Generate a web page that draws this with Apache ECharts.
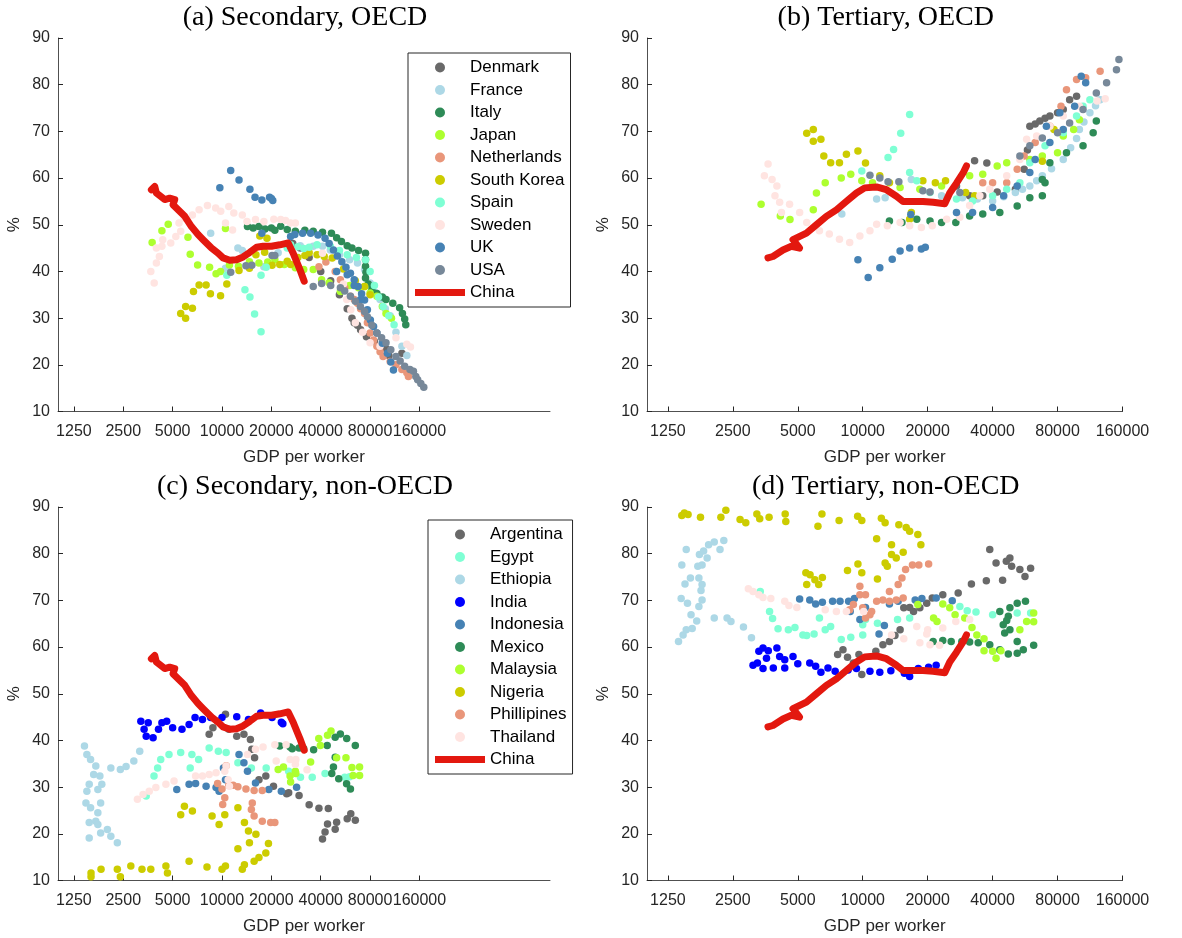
<!DOCTYPE html>
<html>
<head>
<meta charset="utf-8">
<script src="https://cdn.jsdelivr.net/npm/echarts@6/dist/echarts.min.js"></script>
<style>
  html, body { margin: 0; background: #fff; }
  #chart { width: 1182px; height: 938px; }
</style>
</head>
<body>
<div id="chart"></div>
<script>
// tick labels on the GDP axis
const gdpTicks = [1250, 2500, 5000, 10000, 20000, 40000, 80000, 160000];

// China, shared by the panels: [GDP per worker, %]
const chinaSecondary = [[3711,57.5],[3888,58.2],[3981,56.8],[4475,55.4],[4800,55.7],[5150,55.4],[5025,54.3],[5400,53.2],[5930,51.8],[6510,49.6],[7145,47.9],[7670,46.8],[8630,45.0],[9470,43.9],[10150,42.9],[11160,42.4],[12260,42.5],[13450,43.1],[14780,44.1],[16240,45.2],[17820,45.4],[20050,45.4],[22540,45.7],[25330,46.1],[27170,43.9],[29850,40.4],[31710,37.9]];
const chinaTertiary = [[3637,42.9],[3836,43.2],[4269,44.6],[4670,45.4],[5100,45.0],[4750,46.8],[5485,48.2],[6100,50.0],[6785,51.8],[7550,53.2],[8400,55.0],[9350,56.8],[10215,57.9],[11575,58.1],[12880,57.5],[14330,56.1],[15380,55.0],[16820,55.0],[19040,55.0],[21190,54.8],[24000,54.5],[25315,56.8],[27200,58.9],[29190,61.1],[30260,62.6]];

// (a) Secondary, OECD
const secOecdDenmark = [[27000,46],[30000,45],[34000,43],[40000,40],[46000,38],[52000,35],[58000,32],[62000,30],[64000,29],[67000,28.5],[70000,27.5],[76000,26],[85000,25],[95000,24],[100000,23.5],[104000,22],[125000,22.5]];
const secOecdFrance = [[8530,48.2],[12500,45],[13300,44.5],[10500,40.7],[18000,41],[22000,44],[26000,45],[30000,45.5],[36000,45.4],[41000,45.4],[45800,44.6],[52000,43.5],[60000,42.5],[67000,41.8],[74000,40.4],[80000,37.5],[86000,35.5],[92000,34],[99000,32],[106000,30.5],[115000,27],[125000,24],[134000,22]];
const secOecdItaly = [[14300,49.6],[15500,49.3],[16800,49.6],[18300,49.1],[20000,49.3],[21000,48.8],[22800,49.7],[25000,49],[28000,48.6],[32000,48.8],[36000,48.6],[41000,48.4],[46500,48.2],[50000,47.2],[53500,46.4],[58000,45.5],[62000,45],[68000,44.5],[75000,43.9],[75000,42.5],[75000,41.1],[75500,39.8],[75000,38.6],[78000,37.3],[82000,36.1],[88000,35.3],[95000,34.5],[100000,34],[110000,33.2],[121000,32.2],[126000,31],[130000,29.8],[132000,28.6]];
const secOecdJapan = [[3750,46.2],[4300,48.7],[4700,50.1],[6200,47.3],[6400,43.7],[7100,41.4],[8400,40.9],[9200,39.5],[9800,40],[10500,49.2],[11100,41.4],[12600,41.1],[14700,42.1],[16800,41.8],[19000,42],[21000,42.5],[24000,41.5],[28000,40.8],[31500,40.4],[36000,40.4],[40500,38.2],[45000,37.6],[52700,35.7],[60000,37],[68000,36.5],[74000,36.8],[80000,35.4],[88000,34.7],[95000,32.5],[100000,31],[108000,30]];
const secOecdNetherlands = [[39000,41],[43000,42],[49000,40],[52700,38.2],[56000,36.5],[60700,34.7],[64000,34],[67000,33.2],[70000,32],[74000,31],[77000,29],[80000,26.8],[84000,25.3],[88000,24],[92000,22.8],[96000,21.8],[106000,20.7],[115000,20],[125000,19],[134000,18.3],[137000,17.5]];
const secOecdKorea = [[5600,31],[6000,30],[6000,32.5],[6600,32.1],[6700,35.7],[7250,37.1],[8000,37.1],[8500,35.2],[9800,34.8],[10700,37.3],[12700,40.2],[14700,40.7],[16100,43.6],[17000,47.6],[18200,44.1],[18800,47.1],[20200,41.3],[22500,41.5],[25000,42.2],[26200,41.5],[29000,43],[32000,43.4],[34000,44],[38000,43.6],[42000,43.2],[47000,42.9],[55000,40.5],[65000,38],[74000,36.8],[80000,35]];
const secOecdSpain = [[10700,39.2],[13800,36.1],[14800,34.5],[15800,30.9],[17300,27.1],[17300,39.2],[18600,40.9],[25000,45],[26200,45.7],[29000,45.3],[31500,44.9],[34000,45.2],[38000,45.7],[45800,45.4],[52000,44.5],[58000,43.6],[66000,43],[75000,42.5],[80000,40],[85000,37],[90000,34.5],[96000,32.5],[104000,30.5],[112000,28.6]];
const secOecdSweden = [[3680,40],[3860,37.5],[3980,41.8],[4150,43.2],[4300,45.4],[4350,46.8],[3980,45],[4870,46.1],[5230,47.5],[5600,48.6],[5470,50.4],[5880,51.4],[6600,52.1],[7250,53.2],[8150,54.1],[9150,53.6],[9820,52.9],[11000,53.9],[11800,52.5],[13300,52.1],[10500,50.4],[11600,48.9],[14200,50.7],[16000,51.1],[18000,50.7],[20700,51.2],[22800,51.1],[24400,50.9],[26200,50.4],[28000,50.4],[41000,43.9],[50000,40],[55000,37.3],[57600,34],[61000,31.8],[65000,29],[72000,27],[80000,24.7],[92000,24],[115000,25.8],[134000,24.4],[141000,23.8]];
const secOecdUK = [[9700,57.9],[11300,61.6],[12700,59.6],[14800,57.6],[15900,55.9],[17500,55.3],[19500,55.9],[20000,55.6],[20400,55.2],[17500,48.2],[26200,47.5],[27800,47.9],[31000,48.2],[34700,48.2],[38500,47.8],[42500,47.1],[45000,46],[47800,44.6],[50500,43.3],[53800,42.1],[57000,40.9],[60700,39.6],[64000,38.2],[67600,36.8],[71000,35.2],[74000,33.9],[77000,31.8],[80300,29.6],[84000,28.2],[88000,26.8],[95000,24.6],[102000,22.5],[107000,20.6],[111000,18.9],[50000,40],[58000,39.3],[64000,37],[70000,34]];
const secOecdUSA = [[11300,39.8],[14000,41.2],[15200,41.3],[20200,43.4],[21000,43.4],[36000,36.8],[40500,37.4],[46000,37],[52700,36.5],[56000,35.8],[60700,34.7],[65000,33.6],[69800,32.5],[74000,31.4],[77000,30.3],[82000,28.5],[88000,26.8],[94000,25.8],[100000,24.7],[107000,23.2],[115000,21.8],[122000,20.8],[130000,19.7],[140000,19],[147000,18.6],[152000,17.5],[156000,16.8],[163000,16],[170000,15.2]];

// (b) Tertiary, OECD
const terOecdDenmark = [[27200,58.3],[31300,56.2],[33000,63.7],[36000,56.2],[37600,63.2],[42000,57],[51000,57.6],[56000,61.9],[58000,66],[59500,71.1],[63000,71.6],[66200,72.2],[70000,72.8],[73700,73.3],[80000,74],[85000,74.7],[91000,76.8],[98000,77.5]];
const terOecdFrance = [[8000,52.3],[11600,55.5],[12700,55.8],[16800,59.7],[23200,56.2],[29000,55.8],[34000,55.5],[40000,55.1],[45000,56],[51000,56.9],[55000,57.6],[59500,58.3],[64000,59.4],[68000,60.5],[75000,62],[85000,64],[92000,66.5],[98000,68.5],[101000,70.4],[106000,72],[113000,74],[120000,75.5],[126000,76.8]];
const terOecdItaly = [[13300,50.8],[15200,50.5],[17800,51.2],[20500,50.8],[23200,50.5],[27000,50.5],[31300,51.9],[36000,52.3],[43200,52.6],[52000,54],[59500,55.8],[68000,56.2],[70000,59],[68000,59.7],[73700,63.3],[88000,65.4],[105000,66.9],[117000,69.7],[121000,72.2]];
const terOecdJapan = [[3380,54.4],[4150,51.9],[4600,51.1],[5900,53.2],[6100,56.8],[6700,59],[7950,60],[8800,60.8],[9900,59.4],[11100,59],[14900,58],[18400,57.6],[23200,58.3],[31300,60.5],[36000,60.8],[42000,62.6],[46500,63.3],[59500,64],[68000,64.7],[80000,65.4],[85000,69],[95000,70.4],[101000,72.5]];
const terOecdNetherlands = [[36000,59],[40000,59],[46500,59],[52000,61.9],[56000,64.7],[63000,67.6],[73700,71.1],[83000,75.4],[88000,78.9],[98000,81.1],[108000,81.5],[126000,82.9]];
const terOecdKorea = [[5500,69.6],[5900,70.4],[5900,67.9],[6400,68.3],[6600,64.7],[7100,63.3],[7800,63.3],[8400,65.1],[9500,65.8],[10300,63.2],[12000,60.5],[13300,59],[19000,59.4],[21700,59],[24200,59.4],[16800,52.6],[16500,51.2],[30000,56.9],[33000,56.2],[68000,63.6],[77000,70.4]];
const terOecdSpain = [[16500,73.6],[15000,69.6],[13900,66.1],[13100,64.4],[9900,61.5],[16500,61.2],[17800,59.4],[20500,56.9],[27200,55.5],[32300,55.1],[40000,56.2],[46500,57.6],[53500,59],[59500,63.3],[70000,66.9],[85000,69.7],[98000,73.3],[105000,75.4],[113000,76.8]];
const terOecdSweden = [[3640,63],[3500,60.5],[3800,59.7],[4000,58.3],[3920,56.2],[4120,54.8],[4200,52.6],[4580,54.4],[5100,52.6],[5500,50.5],[6300,48.7],[7000,48],[7800,46.9],[8700,46.2],[9700,47.6],[10800,48.7],[11600,50.1],[13000,49.8],[14900,50.5],[16500,49.8],[18700,49.4],[21000,49.8],[24500,51.2],[28200,51.6],[31300,54.1],[34900,56.2],[38800,57.6],[46500,60.5],[53500,64],[57500,68.3],[64000,69],[73700,71.1],[85000,73.3],[101000,75.4],[122000,76.5],[133000,77]];
const terOecdUK = [[9500,42.5],[10600,38.7],[12000,40.8],[13700,42.6],[14900,44.4],[16500,45],[18700,44.8],[19500,45.2],[16700,52.2],[27200,52.6],[32300,52.6],[40000,53.7],[45000,56.2],[52000,58.3],[59500,61.2],[63000,64],[71000,71.1],[73700,67.6],[82000,74],[85000,70.4],[96000,75.4],[103000,81.8],[108000,80.4]];
const terOecdUSA = [[10800,60.6],[12000,60],[13100,59.2],[14700,59.2],[19000,57.3],[20500,57],[28200,56.9],[53500,64.7],[59500,66.9],[68000,68.6],[80000,69.7],[91000,71.8],[105000,74.7],[121000,78.2],[135000,80.4],[150000,83.2],[154000,85.4]];

// (c) Secondary, non-OECD
const secNonArgentina = [[8350,41.3],[8800,42.7],[9400,44.1],[10500,45.6],[11000,42.4],[12300,40.9],[13600,41.3],[14900,40.2],[15200,38.1],[15800,36.3],[16800,31.6],[18500,32.4],[20600,30.2],[24800,28.6],[25500,28.8],[29500,28.2],[34000,26.2],[39000,25.5],[44500,25.4],[44000,22.1],[50000,22.5],[58000,23.2],[61000,24.3],[65000,22.9],[42500,20.4],[41000,18.9],[49000,21]];
const secNonEgypt = [[3450,28.1],[3850,32.4],[4050,34.1],[4230,35.9],[4750,37],[5600,37.4],[6550,37],[6400,34.1],[7200,35.9],[8350,38.4],[9500,37.7],[10600,37.4],[12500,35.2],[15100,34.1],[18600,34.1],[25500,33.4],[30100,32.1],[35500,32.1],[42500,32.9],[56000,32.1],[60000,32.2]];
const secNonEthiopia = [[1450,38.8],[1500,37],[1580,35.9],[1700,34.5],[1650,32.7],[1800,32.4],[1850,30.6],[1750,29.5],[1550,30.6],[1500,29.1],[1480,26.6],[1580,25.6],[1750,24.5],[1820,26.6],[1700,22.7],[1550,22.4],[1750,22],[1820,20.2],[1550,19.1],[2000,20.9],[2100,19.5],[2300,18.1],[2100,34.1],[2400,33.8],[2600,34.4],[2900,35.6],[3150,37.7]];
const secNonIndia = [[3200,44.1],[3350,42.4],[3550,43.8],[3450,40.9],[3800,40.6],[4100,42.4],[4300,43.8],[4600,44.1],[5000,42.7],[5700,42.4],[6300,43.4],[6850,44.9],[7600,44.5],[8530,44.9],[10000,44.9],[12300,45.1],[14500,44.5],[17200,45.9],[20200,44.9],[23000,43.9],[23500,43.6]];
const secNonIndonesia = [[5300,29.5],[6300,30.6],[6900,30.8],[8000,30.2],[9200,29.9],[9600,29.1],[10500,31.6],[10200,34.1],[12700,37],[13600,35.2],[14300,33.4],[16000,30.9],[19300,29.5],[23000,29.1],[28500,30]];
const secNonMexico = [[22500,38.8],[26000,38.6],[29500,38.4],[26800,38.2],[31500,38.2],[36200,38],[43800,38.9],[49000,40.7],[52700,41.4],[57600,40.4],[65000,38.9],[49000,36.4],[47800,34.3],[46700,32.9],[51500,31.8],[57500,30.7],[60700,29.6]];
const secNonMalaysia = [[22000,33.8],[26000,32.4],[28000,33.4],[23700,34.3],[28200,32.9],[26200,31.1],[34700,35.4],[38900,40.4],[44000,41.1],[46200,42],[39800,38.9],[50000,36.3],[57000,36.3],[62000,34.2],[69000,34.3],[69000,32.5],[63000,32.5]];
const secNonNigeria = [[1590,11.6],[1590,10.8],[1830,12.4],[2300,12.4],[2400,10.8],[2780,13.1],[3250,12.4],[3680,12.4],[4550,13.1],[4650,11.6],[5600,24.1],[5900,25.9],[6600,24.9],[6300,14.1],[8100,12.9],[10000,12.4],[10500,13.1],[12500,25.6],[13300,12.4],[13700,13.4],[10400,24.1],[8700,23.8],[9600,22],[12500,16.8],[13700,22.4],[14500,20.6],[14700,18.1],[16100,19.9],[15700,14.1],[16800,14.9],[18500,15.9],[19200,17.9]];
const secNonPhillipines = [[9400,30.8],[10000,29.6],[11000,30.4],[12500,30.1],[14000,29.6],[15700,29.3],[17600,29.3],[10400,27.7],[10100,26.3],[11700,30.4],[10600,34.6],[15300,26.6],[15100,25.2],[15700,23.8],[17600,22.7],[19800,22.4],[21000,22.4]];
const secNonThailand = [[3050,27.4],[3300,28.4],[3600,29.1],[3950,29.9],[4550,30.6],[5100,31.3],[6900,32.4],[7600,32.4],[8350,32.7],[9200,33.1],[10400,33.4],[10900,31.6],[11100,30.2],[10600,34.5],[14300,37],[16000,38.1],[17800,38.6],[21000,39.1],[24600,39.1],[21400,35.6],[26000,35.9],[28000,34.9],[28200,35.9],[33000,33.7]];

// (d) Tertiary, non-OECD
const terNonArgentina = [[7650,58.4],[8100,59.4],[8500,57.8],[9050,56.6],[9900,54.1],[9600,58.4],[11500,59.1],[12400,60.5],[13300,61.2],[14100,62.5],[14900,63.7],[15500,68.4],[16500,68.5],[17200,67.6],[18400,68.4],[19800,69.4],[21000,70.5],[23500,71.2],[27700,71.6],[31900,73.5],[37400,74.2],[44500,74.3],[38800,80.9],[41500,78],[46300,78.4],[49000,77.3],[53500,76.6],[56500,75.1],[60000,76.9],[48100,79.1]];
const terNonEgypt = [[3350,71.9],[3700,67.6],[3820,66.1],[4050,63.9],[4520,63.7],[4850,64.2],[5280,62.6],[5500,62.5],[5950,62.8],[6700,63.7],[7100,64.4],[6300,66.2],[7950,61.6],[8800,62.1],[10000,62.6],[10000,64.8],[10300,65.9],[11700,65.1],[14500,65.9],[16500,66.2],[28200,68.7],[30500,67.8],[33500,67.5],[40000,66.9],[52000,67.3],[60000,67.3]];
const terNonEthiopia = [[1520,80.9],[1450,77.6],[1500,73.5],[1440,70.4],[1540,69.4],[1400,61.2],[1470,62.6],[1520,63.7],[1620,64],[1700,65.6],[1600,66.9],[1740,68.7],[1800,70.1],[1780,72.1],[1800,73.4],[1740,74.8],[1590,74.8],[1720,77.3],[1800,77.6],[1750,79.8],[1830,80.6],[1930,81.9],[2050,82.5],[2270,82.8],[2180,80.9],[1900,79.1],[2050,66.2],[2350,66.2],[2450,65.5],[2800,64.3],[3050,62]];
const terNonIndia = [[3300,59.1],[3250,56.6],[3450,59.8],[3650,59.2],[3580,57.6],[4000,59.8],[4120,58],[4350,57.3],[4750,58],[3100,56.1],[3450,55.4],[3850,55.5],[4350,55.5],[5000,56.4],[5680,56.6],[6050,55.9],[6400,54.6],[6900,55.5],[7450,54.8],[8550,55.1],[9350,55.4],[10800,54.8],[12000,54.6],[13500,54.9],[15600,54.4],[16500,53.7],[18100,55.4],[20200,55.7],[21900,56.1]];
const terNonIndonesia = [[5100,70.3],[5680,70.1],[6050,69.2],[6500,69.6],[7250,69.8],[7850,69.8],[8600,69.8],[9150,70.4],[8750,67.6],[9700,65.9],[10300,68.5],[11900,62.8],[12600,64.6],[13300,69.2],[14600,69.8],[17500,70.1],[18800,70.4],[21900,70.5],[26000,69.9]];
const terNonMexico = [[21200,61.2],[23500,61.4],[25700,61.2],[28800,61.2],[31300,61.1],[34300,60.9],[38800,60.5],[43200,59.4],[47300,58.5],[52000,58.7],[55500,59.4],[62000,60.4],[52000,61.2],[44800,64.8],[47300,66.6],[45500,63],[43200,67.6],[48100,68.4],[52000,69.4],[56800,69.8],[46500,65.7],[48100,63.7]];
const terNonMalaysia = [[18000,69.1],[23500,69.2],[21300,66.2],[22100,65.5],[25300,68.4],[26800,66.9],[29700,66.2],[32100,64.2],[33800,62.6],[36500,61.8],[36500,59.2],[40000,59.1],[41500,57.6],[43700,59.2],[53500,63.7],[57500,65.5],[62000,65.4],[62000,67.3]];
const terNonNigeria = [[1490,88.7],[1450,88.2],[1550,88.4],[1770,87.8],[2200,87.8],[2320,89.3],[2700,87.3],[2870,86.6],[3230,88.5],[3330,87.5],[3680,87.8],[4370,88.5],[4400,86.9],[6200,85.9],[6470,88.5],[7770,87.1],[9470,88],[9900,87.1],[12200,87.6],[12700,86.6],[14700,86.2],[15900,85.6],[16500,84.8],[18000,84.1],[18600,81.9],[11600,83.2],[13600,81.9],[13600,79.8],[14300,79.1],[15400,80.3],[12700,78],[13000,77.3],[9500,77.8],[9900,75.9],[8500,76.4],[11700,74.6],[5450,75.9],[5700,75.5],[6000,74.4],[6250,73.4],[5500,73.4],[6500,74.9]];
const terNonPhillipines = [[9700,71.2],[10300,71.2],[11600,69.8],[12400,70.1],[13300,69.8],[14300,70.1],[15400,70.5],[10000,68.4],[10800,66.9],[9050,69.1],[10300,66.2],[13300,71.9],[14600,73.4],[15200,74.8],[15800,76.6],[17000,77.6],[18200,77.6],[20200,77.8],[9700,73],[8700,68],[11000,67.6]];
const terNonThailand = [[2950,72.5],[3100,71.9],[3300,71.2],[3450,70.6],[3750,70.4],[4350,69.8],[4550,68.9],[4950,68.5],[6700,68],[7550,67.6],[8400,67.6],[10100,67.6],[13600,62.6],[15500,61.8],[18400,60.9],[20500,60.5],[22700,60.4],[17800,64.4],[20000,63.7],[23500,64.1],[27000,65.5],[31300,65.9],[19800,62.8]];

const colors = {
  Denmark: '#696969', France: '#ADD8E6', Italy: '#2E8B57', Japan: '#ADFF2F',
  Netherlands: '#E9967A', 'South Korea': '#CCCC00', Spain: '#7FFFD4',
  Sweden: '#FFE4E1', UK: '#4682B4', USA: '#778899',
  Argentina: '#696969', Egypt: '#7FFFD4', Ethiopia: '#ADD8E6', India: '#0000FF',
  Indonesia: '#4682B4', Mexico: '#2E8B57', Malaysia: '#ADFF2F', Nigeria: '#CCCC00',
  Phillipines: '#E9967A', Thailand: '#FFE4E1', China: '#E3180F'
};

const oecdNames = ['Denmark', 'France', 'Italy', 'Japan', 'Netherlands', 'South Korea', 'Spain', 'Sweden', 'UK', 'USA'];
const nonNames = ['Argentina', 'Egypt', 'Ethiopia', 'India', 'Indonesia', 'Mexico', 'Malaysia', 'Nigeria', 'Phillipines', 'Thailand'];

const panels = [
  { title: '(a) Secondary, OECD', left: 58, top: 38, width: 492, xMax: 1e6, china: chinaSecondary,
    sets: [secOecdDenmark, secOecdFrance, secOecdItaly, secOecdJapan, secOecdNetherlands, secOecdKorea, secOecdSpain, secOecdSweden, secOecdUK, secOecdUSA], names: oecdNames },
  { title: '(b) Tertiary, OECD', left: 647, top: 38, width: 475.5, xMax: 160000, china: chinaTertiary,
    sets: [terOecdDenmark, terOecdFrance, terOecdItaly, terOecdJapan, terOecdNetherlands, terOecdKorea, terOecdSpain, terOecdSweden, terOecdUK, terOecdUSA], names: oecdNames },
  { title: '(c) Secondary, non-OECD', left: 58, top: 507, width: 492, xMax: 1e6, china: chinaSecondary,
    sets: [secNonArgentina, secNonEgypt, secNonEthiopia, secNonIndia, secNonIndonesia, secNonMexico, secNonMalaysia, secNonNigeria, secNonPhillipines, secNonThailand], names: nonNames },
  { title: '(d) Tertiary, non-OECD', left: 647, top: 507, width: 475.5, xMax: 160000, china: chinaTertiary,
    sets: [terNonArgentina, terNonEgypt, terNonEthiopia, terNonIndia, terNonIndonesia, terNonMexico, terNonMalaysia, terNonNigeria, terNonPhillipines, terNonThailand], names: nonNames }
];

const sans = 'Liberation Sans, Arial, sans-serif';
const ink = '#262626';
const toLog = arr => arr.map(d => [Math.log10(d[0]), d[1]]);
const tickPos = gdpTicks.map(v => Math.log10(v));

const chart = echarts.init(document.getElementById('chart'));

const grids = [], xAxes = [], yAxes = [], series = [], titles = [];

panels.forEach((p, i) => {
  grids.push({ left: p.left, top: p.top, width: p.width, height: 373.5 });
  titles.push({
    text: p.title, left: p.left + p.width / 2 + 1, top: p.top - 34, textAlign: 'center', padding: 0,
    textStyle: { fontFamily: 'Liberation Serif, Times New Roman, serif', fontSize: 28, fontWeight: 'normal', color: '#000' }
  });
  xAxes.push({
    gridIndex: i, type: 'value', min: 3, max: Math.log10(p.xMax),
    name: 'GDP per worker', nameLocation: 'middle', nameGap: 37,
    nameTextStyle: { fontFamily: sans, fontSize: 17, color: ink },
    axisLine: { show: true, onZero: false, lineStyle: { color: '#505050', width: 1 } },
    axisTick: { show: true, inside: true, length: 5, customValues: tickPos, lineStyle: { color: ink } },
    axisLabel: {
      customValues: tickPos, margin: 12, fontFamily: sans, fontSize: 16, color: ink,
      formatter: v => String(Math.round(Math.pow(10, v)))
    },
    splitLine: { show: false }
  });
  yAxes.push({
    gridIndex: i, type: 'value', min: 10, max: 90, interval: 10,
    name: '%', nameLocation: 'middle', nameGap: 35, nameRotate: 90,
    nameTextStyle: { fontFamily: sans, fontSize: 17, color: ink },
    axisLine: { show: true, onZero: false, lineStyle: { color: '#505050', width: 1 } },
    axisTick: { show: true, inside: true, length: 5, lineStyle: { color: ink } },
    axisLabel: { margin: 8, fontFamily: sans, fontSize: 16, color: ink },
    splitLine: { show: false }
  });
  p.sets.forEach((set, k) => {
    const name = p.names[k];
    series.push({
      type: 'scatter', name, xAxisIndex: i, yAxisIndex: i, data: toLog(set),
      symbol: 'circle', symbolSize: 7.5, itemStyle: { color: colors[name], opacity: 1 },
      emphasis: { disabled: true }, animation: false
    });
  });
  series.push({
    type: 'line', name: 'China', xAxisIndex: i, yAxisIndex: i, data: toLog(p.china),
    symbol: 'none', z: 5,
    lineStyle: { color: colors.China, width: 7, cap: 'round', join: 'round' },
    itemStyle: { color: colors.China },
    emphasis: { disabled: true }, animation: false
  });
});

const chinaItem = { name: 'China', icon: 'path://M0 0H50V7H0Z', itemStyle: { color: colors.China } };

const legendBase = {
  orient: 'vertical', itemWidth: 50, itemHeight: 10, itemGap: 5.5,
  padding: [6, 6, 6, 7], borderColor: ink, borderWidth: 1, backgroundColor: '#fff',
  selectedMode: false, textStyle: { fontFamily: sans, fontSize: 17, color: '#000' }
};

chart.setOption({
  backgroundColor: '#fff',
  animation: false,
  title: titles,
  grid: grids,
  xAxis: xAxes,
  yAxis: yAxes,
  legend: [
    Object.assign({}, legendBase, { left: 408, top: 53, data: oecdNames.concat([chinaItem]) }),
    Object.assign({}, legendBase, { left: 428, top: 520, data: nonNames.concat([chinaItem]) })
  ],
  series
});
</script>
</body>
</html>
